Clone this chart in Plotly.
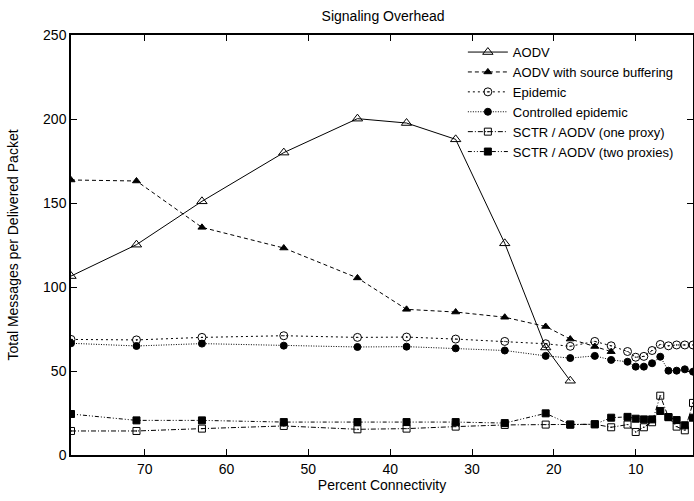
import plotly.graph_objects as go

connectivity = [79, 71, 63, 53, 44, 38, 32, 26, 21, 18, 15, 13, 11, 10, 9, 8, 7, 6, 5, 4, 3]

aodv_x = connectivity[:10]
aodv = [106.5, 125.2, 151.0, 180.0, 200.2, 197.6, 187.9, 126.0, 64.0, 44.2]

aodv_sb_x = connectivity[:12]
aodv_sb = [163.7, 163.1, 135.5, 123.2, 105.4, 86.7, 85.1, 82.0, 76.5, 69.0, 64.6, 61.5]

epidemic = [68.8, 68.5, 70.0, 71.0, 70.0, 70.2, 69.0, 67.6, 66.2, 64.7, 67.6,
            65.0, 61.6, 58.2, 58.7, 62.2, 65.8, 65.0, 65.5, 65.5, 65.5]

controlled = [66.5, 64.9, 66.3, 65.1, 64.3, 64.5, 63.5, 62.2, 59.0, 57.7, 59.0,
              56.6, 55.5, 52.6, 52.6, 54.6, 58.5, 50.2, 50.2, 51.0, 49.6]

sctr_one = [14.3, 14.3, 15.7, 17.3, 15.3, 15.7, 16.9, 17.9, 18.1, 18.1, 18.3,
            16.5, 18.1, 13.7, 16.5, 19.5, 35.3, 22.5, 16.9, 14.7, 31.0]

sctr_two = [24.4, 20.6, 20.6, 19.6, 19.6, 19.6, 19.6, 19.0, 24.8, 18.1, 18.3,
            22.2, 22.7, 21.6, 21.2, 21.2, 26.2, 22.6, 20.8, 17.7, 22.2]

FONT = "Liberation Sans, Arial, Helvetica, sans-serif"
INK = "#000000"

series = [
    ("AODV", aodv_x, aodv, "solid", "triangle-up-open", 9),
    ("AODV with source buffering", aodv_sb_x, aodv_sb, "4px,3px", "triangle-up", 7),
    ("Epidemic", connectivity, epidemic, "2px,3px", "circle-open-dot", 8),
    ("Controlled epidemic", connectivity, controlled, "1px,1.5px", "circle", 7),
    ("SCTR / AODV (one proxy)", connectivity, sctr_one, "5px,2px,1px,2px", "square-open-dot", 7),
    ("SCTR / AODV (two proxies)", connectivity, sctr_two, "4px,2px,1px,2px,1px,2px", "square", 7),
]

fig = go.Figure()
for name, xs, ys, dash, sym, size in series:
    fig.add_trace(go.Scatter(
        x=xs, y=ys, name=name, mode="lines+markers",
        line=dict(color=INK, width=1, dash=dash),
        marker=dict(symbol=sym, size=size, color=INK, line=dict(color=INK, width=1)),
    ))

fig.update_layout(
    width=694, height=501,
    margin=dict(l=71, r=1, t=35, b=46, autoexpand=False),
    paper_bgcolor="white", plot_bgcolor="white",
    font=dict(family=FONT, size=14, color=INK),
    title=dict(text="Signaling Overhead", x=0.552, xanchor="center", y=0.977, yanchor="top",
               font=dict(size=14)),
    showlegend=True,
    legend=dict(x=0.63, xanchor="left", y=0.995, yanchor="top",
                bgcolor="rgba(0,0,0,0)", font=dict(size=13), itemwidth=40,
                tracegroupgap=0),
)

fig.update_xaxes(
    range=[79, 3], tickvals=[70, 60, 50, 40, 30, 20, 10],
    ticks="inside", ticklen=6, tickcolor=INK, tickwidth=1,
    showline=True, linecolor=INK, linewidth=1.5, mirror="ticks",
    showgrid=False, zeroline=False,
    title=dict(text="Percent Connectivity", standoff=0, font=dict(size=14)),
    automargin=False,
)
fig.update_yaxes(
    range=[0, 250], tickvals=[0, 50, 100, 150, 200, 250],
    ticks="inside", ticklen=6, tickcolor=INK, tickwidth=1,
    showline=True, linecolor=INK, linewidth=1.5, mirror="ticks",
    showgrid=False, zeroline=False,
    title=dict(text="Total Messages per Delivered Packet", standoff=21, font=dict(size=14)),
    automargin=False,
)

fig.write_html("out.html", config={"displayModeBar": False},
               post_script="document.body.style.margin='0';")
